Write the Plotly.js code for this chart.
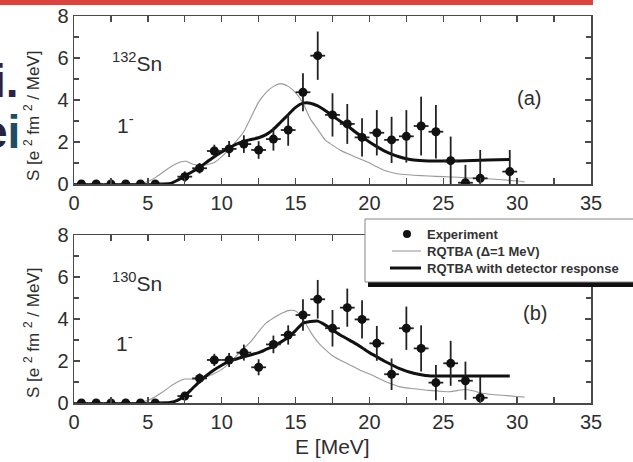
<!DOCTYPE html>
<html><head><meta charset="utf-8">
<script src="https://cdn.plot.ly/plotly-3.0.1.min.js"></script>
<style>html,body{margin:0;padding:0;background:#fff;}#chart{width:633px;height:462px;}</style>
</head><body><div id="chart"></div>
<script>
// ---------- DATA ----------
// Panel (a) 132Sn experiment
const expA_E   = [0.5,1.5,2.5,3.5,4.5,5.5,7.5,8.5,9.5,10.5,11.5,12.5,13.5,14.5,15.5,16.5,17.5,18.5,19.5,20.5,21.5,22.5,23.5,24.5,25.5,26.5,27.5,29.5];
const expA_S   = [0,0,0,0,0,0,0.35,0.75,1.57,1.67,1.9,1.62,2.14,2.57,4.37,6.11,3.29,2.86,2.22,2.44,2.1,2.27,2.76,2.49,1.11,0.06,0.27,0.59];
const expA_err = [0,0,0,0,0,0,0.25,0.25,0.3,0.38,0.42,0.42,0.55,0.75,0.9,1.15,1.03,0.95,0.91,1.08,1.1,1.25,1.4,1.27,1.15,0.85,1.35,1.03];
// Panel (a) RQTBA (Delta = 1 MeV)
const thinA_E = [0,3,4,4.5,5,5.6,6.5,7.2,7.6,8,8.5,9,9.5,10,10.5,11,11.5,12,12.5,13,13.5,14,14.5,15,15.5,16,16.5,17,17.5,18,18.5,19,19.5,20,20.5,21,21.5,22,23,24,25,26,27,28,29,30,30.5];
const thinA_S = [0,0,0.02,0.04,0.12,0.35,0.8,1.05,1.08,0.95,0.88,0.92,1.02,1.3,1.65,2.05,2.5,3.2,3.9,4.35,4.65,4.78,4.65,4.35,3.85,3.1,2.6,2.1,1.85,1.62,1.45,1.3,1.15,1.0,0.82,0.65,0.55,0.48,0.42,0.38,0.35,0.32,0.28,0.25,0.2,0.14,0.1];
// Panel (a) RQTBA with detector response
const thickA_E = [5.5,6.5,7,7.5,8,8.5,9,9.5,10,10.5,11,11.5,12,12.5,13,13.5,14,14.5,15,15.5,16,16.5,17,17.5,18,18.5,19,19.5,20,20.5,21,21.5,22,22.5,23,24,25,26,27,28,29.5];
const thickA_S = [0,0.02,0.18,0.38,0.58,0.8,1.05,1.3,1.52,1.72,1.9,2.03,2.12,2.2,2.35,2.6,2.95,3.3,3.65,3.85,3.85,3.72,3.5,3.25,3.0,2.78,2.5,2.25,2.0,1.78,1.58,1.42,1.3,1.2,1.14,1.1,1.1,1.1,1.12,1.14,1.17];

// Panel (b) 130Sn experiment
const expB_E   = [0.5,1.5,2.5,3.5,4.5,5.5,7.5,8.5,9.5,10.5,11.5,12.5,13.5,14.5,15.5,16.5,17.5,18.5,19.5,20.5,21.5,22.5,23.5,24.5,25.5,26.5,27.5];
const expB_S   = [0,0,0,0,0,0,0.33,1.17,2.05,2.05,2.4,1.7,2.79,3.24,4.19,4.94,3.56,4.54,3.98,2.84,1.37,3.56,2.6,0.97,1.89,1.06,0.25];
const expB_err = [0,0,0,0,0,0,0.2,0.24,0.29,0.33,0.38,0.38,0.42,0.46,0.75,0.92,0.87,0.91,0.91,0.83,0.75,1.03,1.1,0.84,1.07,0.91,1.0];
// Panel (b) RQTBA (Delta = 1 MeV)
const thinB_E = [0,4,4.5,5,5.5,6,6.5,7,7.5,8,8.5,9,9.5,10,10.5,11,11.5,12,12.5,13,13.5,14,14.5,15,15.5,16,16.5,17,17.5,18,18.5,19,19.5,20,20.5,21,21.5,22,22.5,23,24,25,25.5,26,26.5,27,27.5,28,29,30,30.5];
const thinB_S = [0,0.01,0.04,0.12,0.3,0.52,0.78,1.0,1.14,1.14,1.16,1.25,1.4,1.6,1.9,2.25,2.6,2.95,3.4,3.8,4.05,4.25,4.4,4.38,4.0,3.4,2.9,2.55,2.25,2.05,1.88,1.7,1.52,1.38,1.22,1.05,0.9,0.78,0.72,0.68,0.6,0.55,0.54,0.6,0.64,0.58,0.49,0.43,0.37,0.31,0.28];
// Panel (b) RQTBA with detector response
const thickB_E = [5.5,6.5,7,7.5,8,8.5,9,9.5,10,10.5,11,11.5,12,12.5,13,13.5,14,14.5,15,15.5,16,16.5,17,17.5,18,18.5,19,19.5,20,20.5,21,21.5,22,22.5,23,23.5,24,25,27,29.5];
const thickB_S = [0,0.02,0.12,0.35,0.68,1.02,1.32,1.58,1.8,1.98,2.1,2.2,2.3,2.4,2.55,2.7,2.9,3.13,3.45,3.8,3.88,3.9,3.72,3.48,3.25,3.05,2.85,2.63,2.4,2.2,2.0,1.82,1.65,1.52,1.42,1.35,1.3,1.28,1.29,1.29];

const xTickVals = [0,5,10,15,20,25,30,35];
const yTickVals = [0,2,4,6,8];
const legendLabels = ['Experiment','RQTBA (\u0394=1 MeV)','RQTBA with detector response'];

// ---------- STYLE / LAYOUT ----------
const W = 633, H = 462, L = 74, R = 42, T = 16, B = 59;
const PW = W - L - R, PH = H - T - B;
const px = p => (p - L) / PW;
const py = p => (H - B - p) / PH;
const FONT = 'Liberation Sans, Arial, Helvetica, sans-serif';
const TXT = '#2e2e2e';
const AX = '#4a4a4a';

function expTrace(E, S, err, xa, ya) {
  return {x: E, y: S, xaxis: xa, yaxis: ya, type: 'scatter', mode: 'markers',
    marker: {color: '#111', size: 9}, showlegend: false,
    error_y: {type: 'data', array: err, visible: true, color: '#222', thickness: 1.8, width: 0},
    error_x: {type: 'constant', value: 0.5, visible: true, color: '#222', thickness: 1.8, width: 0}};
}
function lineTrace(E, S, xa, ya, thick) {
  return {x: E, y: S, xaxis: xa, yaxis: ya, type: 'scatter', mode: 'lines', showlegend: false,
    line: thick ? {color: '#111', width: 3, shape: 'spline', smoothing: 0.6}
                : {color: '#9a9a9a', width: 1.1, shape: 'spline', smoothing: 0.6}};
}
const data = [
  lineTrace(thinA_E, thinA_S, 'x', 'y', false),
  lineTrace(thickA_E, thickA_S, 'x', 'y', true),
  expTrace(expA_E, expA_S, expA_err, 'x', 'y'),
  lineTrace(thinB_E, thinB_S, 'x2', 'y2', false),
  lineTrace(thickB_E, thickB_S, 'x2', 'y2', true),
  expTrace(expB_E, expB_S, expB_err, 'x2', 'y2'),
];

function xAxis(anchor) {
  return {domain: [0,1], range: [0,35], anchor: anchor, tickvals: xTickVals, ticktext: xTickVals.map(String),
    ticks: 'inside', ticklen: 6, tickwidth: 1.3, tickcolor: AX, mirror: 'ticks', showline: true, linecolor: AX, linewidth: 1.5,
    minor: {tickvals: [2.5,7.5,12.5,17.5,22.5,27.5,32.5], ticks: 'inside', ticklen: 6, tickwidth: 1.3, tickcolor: AX},
    showgrid: false, zeroline: false, tickfont: {family: FONT, size: 20, color: TXT}, fixedrange: true};
}
function yAxis(anchor, dom) {
  return {domain: dom, range: [0,8], anchor: anchor, tickvals: yTickVals, ticktext: yTickVals.map(String),
    ticks: 'inside', ticklen: 6, tickwidth: 1.3, tickcolor: AX, mirror: 'ticks', showline: true, linecolor: AX, linewidth: 1.5,
    minor: {tickvals: [1,3,5,7], ticks: 'inside', ticklen: 5, tickwidth: 1.3, tickcolor: AX},
    showgrid: false, zeroline: false, tickfont: {family: FONT, size: 20, color: TXT}, fixedrange: true};
}

const ytitle = 'S [e <sup>2</sup> fm <sup>2</sup> / MeV]';
function ann(text, xp, yp, size, opts) {
  return Object.assign({xref: 'paper', yref: 'paper', x: px(xp), y: py(yp), text: text, showarrow: false,
    xanchor: 'center', yanchor: 'middle', font: {family: FONT, size: size, color: TXT}}, opts || {});
}
const LEGF = {family: FONT, size: 13, color: '#333'};
const annotations = [
  ann(ytitle, 32, 116, 17, {textangle: -90}),
  ann(ytitle, 32, 333, 17, {textangle: -90}),
  ann('E [MeV]', 332, 447, 21),
  ann('<sup>132</sup>Sn', 137, 62, 21),
  ann('1<sup>-</sup>', 125, 124, 21),
  ann('(a)', 529, 98, 20),
  ann('<sup>130</sup>Sn', 137, 282, 21),
  ann('1<sup>-</sup>', 124, 342, 21),
  ann('(b)', 535, 313, 20),
  // legend labels
  ann('<b>' + legendLabels[0] + '</b>', 425, 234, 13, {xanchor: 'left', font: LEGF}),
  ann('<b>' + legendLabels[1] + '</b>', 425, 251, 13, {xanchor: 'left', font: LEGF}),
  ann('<b>' + legendLabels[2] + '</b>', 425, 268, 13, {xanchor: 'left', font: LEGF}),
  // slide fragments at left edge (cut off in the reference as well)
  ann('<b>i.</b>', 21, 81, 46, {xanchor: 'right', font: {family: FONT, size: 46, color: '#2f2340'}}),
  ann('<b>e<span style="color:#1f4c66">i</span></b>', 22, 132, 46, {xanchor: 'right', font: {family: FONT, size: 46, color: '#2a2438'}}),
];

function rect(x0, y0, x1, y1, fill, lc, lw) {
  return {type: 'rect', xref: 'paper', yref: 'paper', x0: px(x0), x1: px(x1), y0: py(y1), y1: py(y0),
    fillcolor: fill, line: {color: lc || fill, width: lw || 0}, layer: 'above'};
}
function seg(x0, x1, y, color, w) {
  return {type: 'line', xref: 'paper', yref: 'paper', x0: px(x0), x1: px(x1), y0: py(y), y1: py(y), line: {color: color, width: w}, layer: 'above'};
}
const shapes = [
  rect(0, 0, 593, 5, '#d9443e'),
  rect(368, 280, 640, 287, '#111'),
  rect(365, 219, 645, 282, '#ffffff', '#888', 1),
  {type: 'circle', xref: 'paper', yref: 'paper', x0: px(403), x1: px(411), y0: py(238), y1: py(230), fillcolor: '#111', line: {color: '#111', width: 0}, layer: 'above'},
  seg(392, 421, 251, '#9a9a9a', 1.1),
  seg(390, 421, 268, '#111', 3),
];

const layout = {
  width: W, height: H, margin: {l: L, r: R, t: T, b: B, pad: 0},
  paper_bgcolor: '#fff', plot_bgcolor: '#fff', showlegend: false,
  font: {family: FONT, color: TXT},
  xaxis: xAxis('y'), yaxis: yAxis('x', [(H - B - 184) / PH, 1]),
  xaxis2: xAxis('y2'), yaxis2: yAxis('x2', [0, (H - B - 235) / PH]),
  annotations: annotations, shapes: shapes,
};
Plotly.newPlot('chart', data, layout, {displayModeBar: false, staticPlot: true});
</script></body></html>
